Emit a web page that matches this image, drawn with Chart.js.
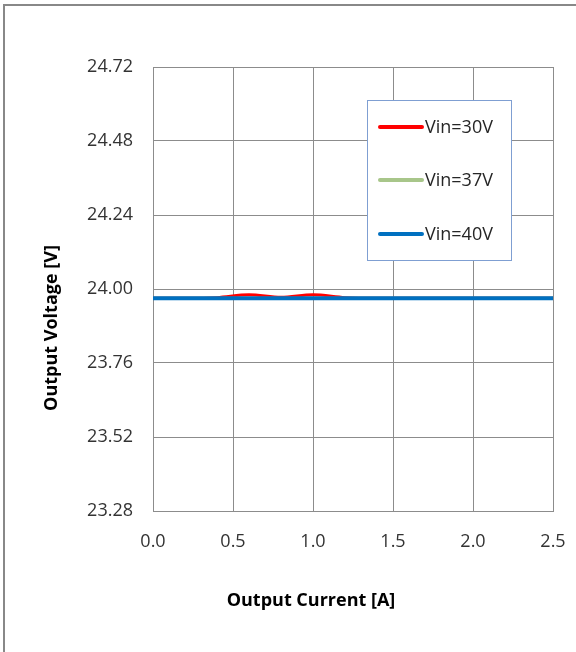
<!DOCTYPE html>
<html>
<head>
<meta charset="utf-8">
<script src="https://cdn.jsdelivr.net/npm/chart.js@4/dist/chart.umd.min.js"></script>
<style>
  html, body { margin: 0; padding: 0; background: #fff; }
  canvas { display: block; }
</style>
</head>
<body>
<canvas id="c" width="576" height="652"></canvas>
<script>
// ---- data ----
const currents = [0, 0.2, 0.4, 0.6, 0.8, 1.0, 1.2, 1.4, 1.6, 1.8, 2.0, 2.2, 2.4, 2.5];
const vin30 = [23.970, 23.970, 23.972, 23.981, 23.973, 23.981, 23.972, 23.970, 23.970, 23.970, 23.970, 23.970, 23.970, 23.970];
const vin37 = [23.970, 23.970, 23.970, 23.970, 23.970, 23.970, 23.970, 23.970, 23.970, 23.970, 23.970, 23.970, 23.970, 23.970];
const vin40 = [23.970, 23.970, 23.970, 23.970, 23.970, 23.970, 23.970, 23.970, 23.970, 23.970, 23.970, 23.970, 23.970, 23.970];
const seriesNames = ['Vin=30V', 'Vin=37V', 'Vin=40V'];
const yTicks = [23.28, 23.52, 23.76, 24.00, 24.24, 24.48, 24.72];
const xTicks = [0.0, 0.5, 1.0, 1.5, 2.0, 2.5];
const xTitle = 'Output Current [A]';
const yTitle = 'Output Voltage [V]';

const colors = ['#FF0000', '#A8C68A', '#0070C0'];
const widths = [3, 3, 4];
const seriesValues = [vin30, vin37, vin40];

const FONT = "'Open Sans', 'DejaVu Sans', sans-serif";

const datasets = seriesNames.map((name, i) => ({
  label: name,
  data: currents.map((x, j) => ({ x: x, y: seriesValues[i][j] })),
  borderColor: colors[i],
  backgroundColor: colors[i],
  borderWidth: widths[i],
  pointRadius: 0,
  cubicInterpolationMode: 'monotone',
  fill: false,
  order: 2 - i
}));

const framePlugin = {
  id: 'frame',
  beforeDraw(chart) {
    const ctx = chart.ctx;
    ctx.save();
    ctx.strokeStyle = '#888888';
    ctx.lineWidth = 2;
    ctx.beginPath();
    ctx.moveTo(4, 660);
    ctx.lineTo(4, 5);
    ctx.lineTo(600, 5);
    ctx.stroke();
    ctx.restore();
  }
};

const legendBoxPlugin = {
  id: 'legendBox',
  afterDatasetsDraw(chart) {
    const ctx = chart.ctx;
    const a = chart.chartArea;
    const left = a.left + 214, top = a.top + 33, w = 144, h = 160;
    ctx.save();
    ctx.fillStyle = '#ffffff';
    ctx.fillRect(left, top, w, h);
    ctx.strokeStyle = '#7F9FD2';
    ctx.lineWidth = 1;
    ctx.strokeRect(left + 0.5, top + 0.5, w, h);
    const rowY = [27, 80, 134];
    chart.data.datasets.forEach((ds, i) => {
      const y = top + rowY[i];
      ctx.strokeStyle = ds.borderColor;
      ctx.lineWidth = 4;
      ctx.lineCap = 'round';
      ctx.beginPath();
      ctx.moveTo(left + 13, y);
      ctx.lineTo(left + 55, y);
      ctx.stroke();
      ctx.fillStyle = '#262626';
      ctx.font = '18px ' + FONT;
      ctx.textBaseline = 'middle';
      ctx.textAlign = 'left';
      ctx.fillText(ds.label, left + 58, y + 1);
    });
    ctx.restore();
  }
};

const titlesPlugin = {
  id: 'axisTitles',
  afterDraw(chart) {
    const ctx = chart.ctx;
    const a = chart.chartArea;
    ctx.save();
    ctx.fillStyle = '#000000';
    ctx.font = 'bold 18px ' + FONT;
    ctx.textAlign = 'center';
    ctx.textBaseline = 'middle';
    ctx.fillText(xTitle, (a.left + a.right) / 2 - 42, 601);
    ctx.translate(52, (a.top + a.bottom) / 2 + 39);
    ctx.rotate(-Math.PI / 2);
    ctx.fillText(yTitle, 0, 0);
    ctx.restore();
  }
};

new Chart(document.getElementById('c'), {
  type: 'line',
  data: { datasets: datasets },
  options: {
    responsive: false,
    animation: false,
    layout: { padding: { top: 67, right: 23, left: 0, bottom: 0 } },
    plugins: { legend: { display: false }, tooltip: { enabled: false } },
    scales: {
      x: {
        type: 'linear',
        min: xTicks[0],
        max: xTicks[xTicks.length - 1],
        afterFit(s) { s.height = 141; s.paddingRight = 0; s.paddingLeft = 0; },
        afterBuildTicks(s) { s.ticks = xTicks.map(v => ({ value: v })); },
        ticks: {
          callback: v => Number(v).toFixed(1),
          color: '#333333',
          font: { family: FONT, size: 18 },
          padding: 20,
          maxRotation: 0
        },
        grid: { color: '#8C8C8C', lineWidth: 1, drawTicks: false },
        border: { color: '#8C8C8C', width: 1 }
      },
      y: {
        type: 'linear',
        min: yTicks[0],
        max: yTicks[yTicks.length - 1],
        afterFit(s) { s.width = 153; s.paddingTop = 0; s.paddingBottom = 0; },
        afterBuildTicks(s) { s.ticks = yTicks.map(v => ({ value: v })); },
        ticks: {
          callback: v => Number(v).toFixed(2),
          color: '#333333',
          font: { family: FONT, size: 18 },
          padding: 20
        },
        grid: { color: '#8C8C8C', lineWidth: 1, drawTicks: false },
        border: { color: '#8C8C8C', width: 1 }
      }
    }
  },
  plugins: [framePlugin, legendBoxPlugin, titlesPlugin]
});
</script>
</body>
</html>
